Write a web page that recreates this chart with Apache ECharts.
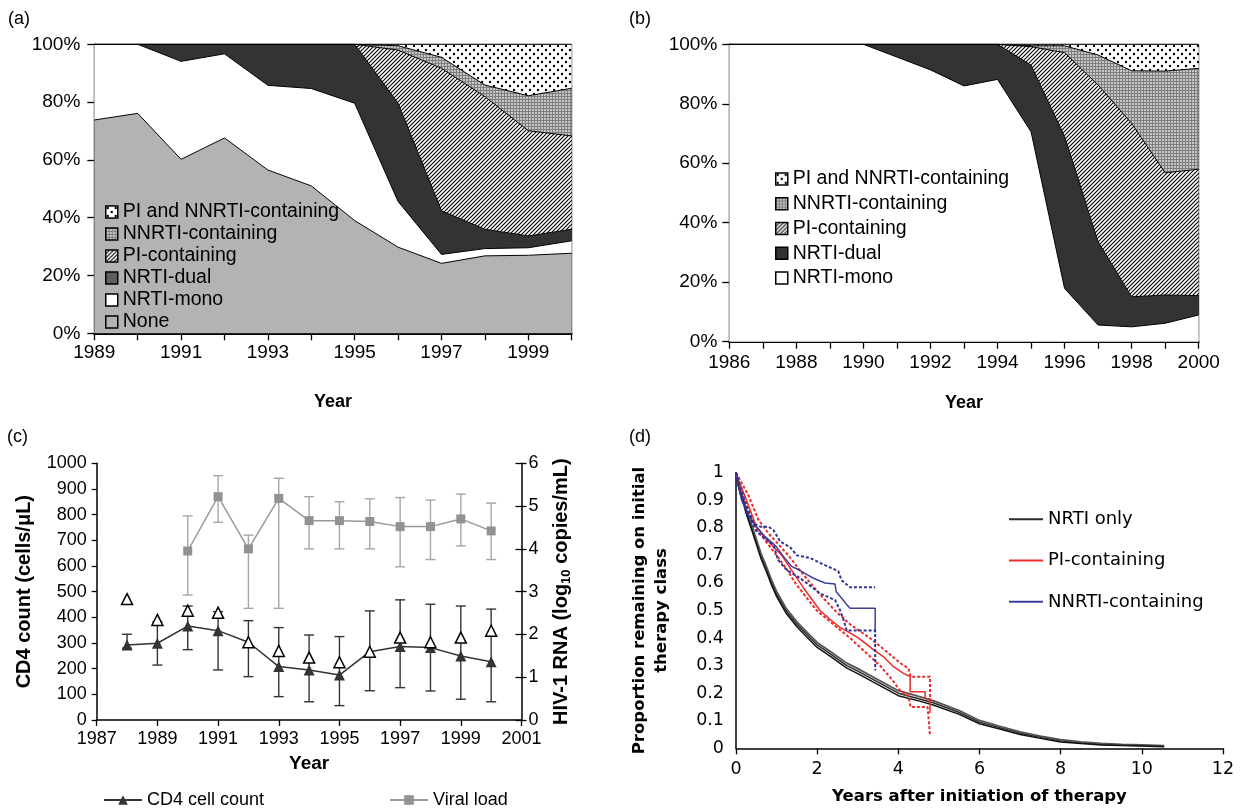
<!DOCTYPE html>
<html><head><meta charset="utf-8">
<script src="https://cdn.jsdelivr.net/npm/echarts@6/dist/echarts.min.js"></script>
<style>html,body{margin:0;padding:0;background:#fff}#c{width:1242px;height:810px}</style>
</head><body><div id="c"></div>
<script>
// ---------- Panel (a) ----------
const aYears = ['1989','1990','1991','1992','1993','1994','1995','1996','1997','1998','1999','2000'];
const aNone  = [73.8, 76.1, 60.2, 67.6, 56.5, 51.0, 39.0, 29.8, 24.2, 26.8, 27.0, 27.7];
const aMono  = [26.2, 23.9, 33.9, 29.1, 29.3, 33.7, 40.6, 15.8, 3.1, 2.5, 2.6, 4.3];
const aDual  = [0, 0, 5.9, 3.3, 14.2, 15.3, 20.4, 34.0, 15.1, 6.7, 4.1, 4.0];
const aPI    = [0, 0, 0, 0, 0, 0, 0, 18.4, 49.3, 45.9, 36.4, 32.3];
const aNNRTI = [0, 0, 0, 0, 0, 0, 0, 1.5, 3.8, 4.0, 12.1, 16.5];
const aBoth  = [0, 0, 0, 0, 0, 0, 0, 0.5, 4.5, 14.1, 17.8, 15.2];

// ---------- Panel (b) ----------
const bYears = ['1986','1987','1988','1989','1990','1991','1992','1993','1994','1995','1996','1997','1998','1999','2000'];
const bMono  = [100, 100, 100, 100, 100, 95.7, 91.4, 86.0, 88.2, 70.6, 17.9, 5.6, 5.0, 6.2, 9.0];
const bDual  = [0, 0, 0, 0, 0, 4.3, 8.6, 14.0, 11.8, 22.4, 51.1, 28.0, 10.1, 9.5, 6.5];
const bPI    = [0, 0, 0, 0, 0, 0, 0, 0, 0, 6.2, 28.2, 52.7, 58.3, 41.1, 42.5];
const bNNRTI = [0, 0, 0, 0, 0, 0, 0, 0, 0, 0.3, 2.3, 10.1, 17.7, 34.2, 33.9];
const bBoth  = [0, 0, 0, 0, 0, 0, 0, 0, 0, 0.5, 0.5, 3.6, 8.9, 9.0, 8.1];

// ---------- Panel (c) ----------
const cAxisYears = ['1987','1988','1989','1990','1991','1992','1993','1994','1995','1996','1997','1998','1999','2000','2001'];
const cYears   = ['1988','1989','1990','1991','1992','1993','1994','1995','1996','1997','1998','1999','2000'];
const cCD4     = [292, 299, 366, 348, 303, 208, 195, 175, 266, 286, 282, 249, 227];
const cCD4Low  = [280, 214, 274, 195, 169, 91, 71, 56, 114, 126, 113, 81, 71];
const cCD4High = [334, 383, 444, 422, 387, 360, 331, 325, 425, 468, 451, 444, 432];
const cOpen    = [471, 390, 426, 418, 303, 269, 243, 225, 266, 321, 303, 321, 348];
const vlYears  = ['1990','1991','1992','1993','1994','1995','1996','1997','1998','1999','2000'];
const vl       = [3.95, 5.22, 4.00, 5.18, 4.66, 4.66, 4.64, 4.52, 4.52, 4.70, 4.42];
const vlLow    = [2.92, 4.62, 2.61, 2.61, 4.00, 4.00, 4.00, 3.58, 3.75, 4.07, 3.75];
const vlHigh   = [4.77, 5.71, 4.32, 5.65, 5.22, 5.10, 5.17, 5.20, 5.14, 5.28, 5.07];

// ---------- Panel (d) ----------
const dNrtiT   = [0,0.05,0.1,0.18,0.25,0.39,0.5,0.61,0.75,0.88,1.0,1.23,1.5,1.83,2.0,2.3,2.73,3.0,3.5,4.0,4.5,4.86,5.5,6.0,6.5,7.0,7.5,8.0,8.5,9.0,9.5,10.0,10.55];
const dNrtiMid = [1,0.96,0.935,0.9,0.86,0.8,0.75,0.7,0.65,0.6,0.56,0.5,0.45,0.4,0.375,0.345,0.3,0.28,0.24,0.2,0.18,0.165,0.13,0.095,0.075,0.055,0.04,0.027,0.02,0.015,0.012,0.01,0.008];
const dNrtiUp  = [1,0.965,0.942,0.908,0.868,0.809,0.759,0.709,0.659,0.609,0.569,0.509,0.459,0.409,0.384,0.354,0.309,0.289,0.249,0.209,0.188,0.173,0.137,0.101,0.08,0.06,0.044,0.031,0.023,0.018,0.014,0.012,0.01];
const dNrtiLo  = [1,0.955,0.928,0.892,0.852,0.791,0.741,0.691,0.641,0.591,0.551,0.491,0.441,0.391,0.366,0.336,0.291,0.271,0.231,0.191,0.172,0.157,0.123,0.089,0.07,0.05,0.036,0.023,0.017,0.012,0.01,0.008,0.006];
const dPiT     = [0,0.1,0.26,0.51,0.8,1.13,1.35,1.58,1.82,2.07,2.3,2.55,2.8,3.02,3.2,3.39,3.63,3.88,4.13,4.29,4.29,4.66,4.66,4.78,4.78];
const dPiMid   = [1,0.96,0.9,0.8,0.75,0.7,0.65,0.6,0.55,0.5,0.47,0.44,0.42,0.4,0.38,0.357,0.333,0.296,0.272,0.26,0.205,0.205,0.18,0.18,0.128];
const dPiUpT   = [0,0.3,0.55,0.8,1.29,1.55,1.83,2.12,2.44,2.81,3.3,3.72,4.04,4.25,4.3,4.78,4.78];
const dPiUp    = [1,0.92,0.83,0.78,0.7,0.65,0.6,0.55,0.5,0.45,0.4,0.35,0.31,0.29,0.26,0.26,0.16];
const dPiLoT   = [0,0.22,0.48,1.0,1.25,1.46,1.72,1.99,2.4,2.81,3.18,3.55,3.84,4.04,4.25,4.3,4.72,4.78];
const dPiLo    = [1,0.9,0.8,0.7,0.65,0.6,0.55,0.5,0.45,0.4,0.35,0.3,0.25,0.21,0.19,0.15,0.15,0.05];
const dNnT     = [0,0.05,0.14,0.3,0.47,0.7,0.9,1.0,1.2,1.37,1.58,1.75,1.91,2.19,2.44,2.47,2.63,2.72,2.81,3.43,3.43];
const dNnMid   = [1,0.96,0.9,0.85,0.81,0.77,0.745,0.73,0.69,0.66,0.645,0.63,0.617,0.6,0.596,0.568,0.54,0.523,0.508,0.508,0.42];
const dNnUpT   = [0,0.1,0.25,0.43,0.6,0.8,0.92,1.09,1.33,1.5,1.83,2.07,2.32,2.52,2.6,2.81,3.43];
const dNnUp    = [1,0.95,0.88,0.816,0.804,0.804,0.792,0.75,0.73,0.7,0.69,0.673,0.656,0.643,0.61,0.584,0.584];
const dNnLoT   = [0,0.1,0.25,0.51,0.76,0.92,1.04,1.25,1.58,1.74,1.91,2.07,2.44,2.56,2.65,2.73,3.43,3.43];
const dNnLo    = [1,0.93,0.86,0.786,0.756,0.738,0.683,0.647,0.617,0.6,0.58,0.562,0.538,0.502,0.466,0.427,0.427,0.282];

// ---------- fill patterns ----------
function mkCanvas(w, h, draw) { const c = document.createElement('canvas'); c.width = w; c.height = h; draw(c.getContext('2d')); return c; }
const hatchImg = mkCanvas(4, 4, g => { g.fillStyle = '#fff'; g.fillRect(0,0,4,4); g.strokeStyle = '#000'; g.lineWidth = 1.1; g.beginPath(); g.moveTo(0,4); g.lineTo(4,0); g.moveTo(-1,1); g.lineTo(1,-1); g.moveTo(3,5); g.lineTo(5,3); g.stroke(); });
const gridImg = mkCanvas(3, 3, g => { g.fillStyle = '#c6c6c6'; g.fillRect(0,0,3,3); g.fillStyle = '#7e7e7e'; g.fillRect(0,0,3,1); g.fillRect(0,0,1,3); });
const dotImg = mkCanvas(8, 8, g => { g.fillStyle = '#fff'; g.fillRect(0,0,8,8); g.fillStyle = '#000'; g.beginPath(); g.arc(2,2,1.2,0,Math.PI*2); g.arc(6,6,1.2,0,Math.PI*2); g.fill(); });
const pat = img => ({ image: img, repeat: 'repeat' });
const HATCH = pat(hatchImg), GRIDP = pat(gridImg), DOTS = pat(dotImg);

const LIB = 'Liberation Sans', DJV = 'DejaVu Sans';
const zip = (a, b) => a.map((v, i) => [v, b[i]]);

function areaSeries(name, data, fill, xi, yi) {
  return { name, type: 'line', stack: 'st' + xi, xAxisIndex: xi, yAxisIndex: yi, data,
    symbol: 'none', lineStyle: { color: '#000', width: 1 }, itemStyle: { color: fill },
    areaStyle: { color: fill, opacity: 1 }, emphasis: { disabled: true } };
}
function errRender(color) {
  return function (params, api) {
    const x = api.value(0), lo = api.value(1), hi = api.value(2);
    const p1 = api.coord([x, lo]), p2 = api.coord([x, hi]), w = 5;
    const st = { stroke: color, lineWidth: 1.4 };
    return { type: 'group', children: [
      { type: 'line', shape: { x1: p1[0], y1: p1[1], x2: p2[0], y2: p2[1] }, style: st },
      { type: 'line', shape: { x1: p1[0]-w, y1: p1[1], x2: p1[0]+w, y2: p1[1] }, style: st },
      { type: 'line', shape: { x1: p2[0]-w, y1: p2[1], x2: p2[0]+w, y2: p2[1] }, style: st }
    ] };
  };
}
function kmLine(name, t, v, color, width, dashed, z) {
  return { name, type: 'line', xAxisIndex: 3, yAxisIndex: 5, data: zip(t, v), showSymbol: false, symbol: 'none',
    z: z, lineStyle: { color, width, type: dashed ? [3, 2] : 'solid' }, itemStyle: { color }, emphasis: { disabled: true } };
}

const axLine = w => ({ show: true, lineStyle: { color: '#000', width: w } });
const tick = (len, inside) => ({ show: true, length: len, inside: !!inside, lineStyle: { color: '#000', width: 1.3 } });

const option = {
  animation: false,
  backgroundColor: '#fff',
  grid: [
    { left: 94.3, top: 44.3, width: 477.4, height: 289, show: true, borderColor: '#000', borderWidth: 1, containLabel: false, outerBoundsMode: 'none' },
    { left: 729.3, top: 44.3, width: 469.4, height: 297.4, show: true, borderColor: '#000', borderWidth: 1, containLabel: false, outerBoundsMode: 'none' },
    { left: 96.7, top: 463.3, width: 424.8, height: 256.7, containLabel: false, outerBoundsMode: 'none' },
    { left: 736, top: 472.7, width: 487, height: 275.6, containLabel: false, outerBoundsMode: 'none' }
  ],
  xAxis: [
    { type: 'category', gridIndex: 0, data: aYears, boundaryGap: false, axisLine: axLine(2), axisTick: Object.assign(tick(7), { interval: 0 }),
      axisLabel: { interval: 1, margin: 10, color: '#000', fontSize: 19, fontFamily: LIB },
      name: 'Year', nameLocation: 'middle', nameGap: 60, nameTextStyle: { fontWeight: 'bold', fontSize: 18, fontFamily: LIB, color: '#000' } },
    { type: 'category', gridIndex: 1, data: bYears, boundaryGap: false, axisLine: axLine(2), axisTick: Object.assign(tick(7), { interval: 0 }),
      axisLabel: { interval: 1, margin: 12, color: '#000', fontSize: 19, fontFamily: LIB },
      name: 'Year', nameLocation: 'middle', nameGap: 52, nameTextStyle: { fontWeight: 'bold', fontSize: 18, fontFamily: LIB, color: '#000' } },
    { type: 'category', gridIndex: 2, data: cAxisYears, boundaryGap: false, axisLine: axLine(1.5), axisTick: Object.assign(tick(6), { interval: 1 }),
      axisLabel: { interval: 1, margin: 10, color: '#000', fontSize: 18, fontFamily: LIB },
      name: 'Year', nameLocation: 'middle', nameGap: 34, nameTextStyle: { fontWeight: 'bold', fontSize: 19, fontFamily: LIB, color: '#000' } },
    { type: 'value', gridIndex: 3, min: 0, max: 12, interval: 2, axisLine: axLine(1.5), axisTick: tick(6), splitLine: { show: false },
      axisLabel: { margin: 12, color: '#000', fontSize: 17.5, fontFamily: DJV },
      name: 'Years after initiation of therapy', nameLocation: 'middle', nameGap: 40, nameTextStyle: { fontWeight: 'bold', fontSize: 16.5, fontFamily: DJV, color: '#000' } }
  ],
  yAxis: [
    { type: 'value', gridIndex: 0, min: 0, max: 100, interval: 20, axisLine: axLine(1.5), axisTick: tick(7), splitLine: { show: false },
      axisLabel: { formatter: '{value}%', margin: 14, color: '#000', fontSize: 19, fontFamily: LIB } },
    { type: 'value', gridIndex: 1, min: 0, max: 100, interval: 20, axisLine: axLine(1.5), axisTick: tick(7), splitLine: { show: false },
      axisLabel: { formatter: '{value}%', margin: 12, color: '#000', fontSize: 19, fontFamily: LIB } },
    { type: 'value', gridIndex: 2, min: 0, max: 1000, interval: 100, axisLine: axLine(1.5), axisTick: tick(5), splitLine: { show: false },
      axisLabel: { margin: 10, color: '#000', fontSize: 18, fontFamily: LIB, formatter: v => String(v) },
      name: 'CD4 count (cells/μL)', nameLocation: 'middle', nameRotate: 90, nameGap: 62, nameTextStyle: { fontWeight: 'bold', fontSize: 20, fontFamily: LIB, color: '#000' } },
    { type: 'value', gridIndex: 2, position: 'right', min: 0, max: 6, interval: 1, axisLine: axLine(1.5), axisTick: tick(5), splitLine: { show: false },
      axisLabel: { margin: 7, color: '#000', fontSize: 18, fontFamily: LIB },
      name: 'HIV-1 RNA (log{s|10} copies/mL)', nameLocation: 'middle', nameRotate: 90, nameGap: 28,
      nameTextStyle: { fontWeight: 'bold', fontSize: 20, fontFamily: LIB, color: '#000',
        rich: { s: { fontWeight: 'bold', fontSize: 13, fontFamily: LIB, color: '#000', verticalAlign: 'bottom', padding: [10, 0, 0, 0] } } } },
    { type: 'value', gridIndex: 2, position: 'right', min: 0, max: 6, interval: 1, axisLine: { show: false }, axisTick: tick(6, true),
      splitLine: { show: false }, axisLabel: { show: false } },
    { type: 'value', gridIndex: 3, min: 0, max: 1, interval: 0.1, axisLine: axLine(1.5), axisTick: { show: false }, splitLine: { show: false },
      axisLabel: { margin: 12, color: '#000', fontSize: 17.5, fontFamily: DJV },
      name: 'Proportion remaining on initial\ntherapy class', nameLocation: 'middle', nameRotate: 90, nameGap: 63,
      nameTextStyle: { fontWeight: 'bold', fontSize: 16.5, lineHeight: 22, fontFamily: DJV, color: '#000' } }
  ],
  legend: [
    { left: 105, top: 201, padding: 0, orient: 'vertical', icon: 'rect', itemWidth: 12, itemHeight: 12, itemGap: 0, selectedMode: false,
      textStyle: { fontSize: 19.5, fontFamily: LIB, color: '#000', lineHeight: 22 }, formatter: n => n.slice(2),
      data: [
        { name: 'a:PI and NNRTI-containing', itemStyle: { color: DOTS, borderColor: '#000', borderWidth: 1.5 } },
        { name: 'a:NNRTI-containing', itemStyle: { color: GRIDP, borderColor: '#000', borderWidth: 1.5 } },
        { name: 'a:PI-containing', itemStyle: { color: HATCH, borderColor: '#000', borderWidth: 1.5 } },
        { name: 'a:NRTI-dual', itemStyle: { color: '#5e5e5e', borderColor: '#000', borderWidth: 1.5 } },
        { name: 'a:NRTI-mono', itemStyle: { color: '#fff', borderColor: '#000', borderWidth: 1.5 } },
        { name: 'a:None', itemStyle: { color: '#b3b3b3', borderColor: '#000', borderWidth: 1.5 } }
      ] },
    { left: 775, top: 166.5, padding: 0, orient: 'vertical', icon: 'rect', itemWidth: 12, itemHeight: 12, itemGap: 0, selectedMode: false,
      textStyle: { fontSize: 19.5, fontFamily: LIB, color: '#000', lineHeight: 24.75 }, formatter: n => n.slice(2),
      data: [
        { name: 'b:PI and NNRTI-containing', itemStyle: { color: DOTS, borderColor: '#000', borderWidth: 1.5 } },
        { name: 'b:NNRTI-containing', itemStyle: { color: GRIDP, borderColor: '#000', borderWidth: 1.5 } },
        { name: 'b:PI-containing', itemStyle: { color: HATCH, borderColor: '#000', borderWidth: 1.5 } },
        { name: 'b:NRTI-dual', itemStyle: { color: '#333', borderColor: '#000', borderWidth: 1.5 } },
        { name: 'b:NRTI-mono', itemStyle: { color: '#fff', borderColor: '#000', borderWidth: 1.5 } }
      ] },
    { left: 103, top: 789, padding: 0, itemWidth: 38, itemHeight: 12, selectedMode: false, textStyle: { fontSize: 18, fontFamily: LIB, color: '#000', lineHeight: 22 },
      data: ['CD4 cell count'] },
    { left: 389, top: 789, padding: 0, itemWidth: 38, itemHeight: 12, selectedMode: false, textStyle: { fontSize: 18, fontFamily: LIB, color: '#000', lineHeight: 22 },
      data: ['Viral load'] },
    { left: 1009, top: 498.6, padding: 0, orient: 'vertical', itemWidth: 34, itemHeight: 2, itemGap: 0, selectedMode: false, icon: 'rect',
      textStyle: { fontSize: 18, fontFamily: DJV, color: '#000', lineHeight: 41.3 }, formatter: n => n.slice(2),
      data: [
        { name: 'd:NRTI only', itemStyle: { color: '#2b2b2b' } },
        { name: 'd:PI-containing', itemStyle: { color: '#ee2a2a' } },
        { name: 'd:NNRTI-containing', itemStyle: { color: '#3b3f9c' } }
      ] }
  ],
  graphic: [
    { type: 'text', left: 8, top: 10, style: { text: '(a)', fontSize: 18, fontFamily: LIB, fill: '#000' } },
    { type: 'text', left: 629, top: 10, style: { text: '(b)', fontSize: 18, fontFamily: LIB, fill: '#000' } },
    { type: 'text', left: 7, top: 428, style: { text: '(c)', fontSize: 18, fontFamily: LIB, fill: '#000' } },
    { type: 'text', left: 629, top: 428, style: { text: '(d)', fontSize: 18, fontFamily: LIB, fill: '#000' } }
  ],
  series: [
    areaSeries('a:None', aNone, '#b3b3b3', 0, 0),
    areaSeries('a:NRTI-mono', aMono, '#fff', 0, 0),
    areaSeries('a:NRTI-dual', aDual, '#333', 0, 0),
    areaSeries('a:PI-containing', aPI, HATCH, 0, 0),
    areaSeries('a:NNRTI-containing', aNNRTI, GRIDP, 0, 0),
    areaSeries('a:PI and NNRTI-containing', aBoth, DOTS, 0, 0),

    areaSeries('b:NRTI-mono', bMono, '#fff', 1, 1),
    areaSeries('b:NRTI-dual', bDual, '#333', 1, 1),
    areaSeries('b:PI-containing', bPI, HATCH, 1, 1),
    areaSeries('b:NNRTI-containing', bNNRTI, GRIDP, 1, 1),
    areaSeries('b:PI and NNRTI-containing', bBoth, DOTS, 1, 1),

    { name: 'c:cd4err', type: 'custom', xAxisIndex: 2, yAxisIndex: 2, renderItem: errRender('#333'), z: 2,
      data: cYears.map((y, i) => [y, cCD4Low[i], cCD4High[i]]), encode: { x: 0, y: [1, 2] } },
    { name: 'c:vlerr', type: 'custom', xAxisIndex: 2, yAxisIndex: 3, renderItem: errRender('#a6a6a6'), z: 2,
      data: vlYears.map((y, i) => [y, vlLow[i], vlHigh[i]]), encode: { x: 0, y: [1, 2] } },
    { name: 'Viral load', type: 'line', xAxisIndex: 2, yAxisIndex: 3, data: zip(vlYears, vl), z: 3,
      symbol: 'rect', symbolSize: 9, lineStyle: { color: '#999', width: 1.5 }, itemStyle: { color: '#929292' }, emphasis: { disabled: true } },
    { name: 'CD4 cell count', type: 'line', xAxisIndex: 2, yAxisIndex: 2, data: zip(cYears, cCD4), z: 4,
      symbol: 'triangle', symbolSize: 11, lineStyle: { color: '#333', width: 1.5 }, itemStyle: { color: '#333' }, emphasis: { disabled: true } },
    { name: 'c:open', type: 'scatter', xAxisIndex: 2, yAxisIndex: 2, data: zip(cYears, cOpen), z: 5,
      symbol: 'triangle', symbolSize: 11, itemStyle: { color: '#fff', opacity: 1, borderColor: '#000', borderWidth: 1.5 }, emphasis: { disabled: true } },

    kmLine('d:NRTI only', dNrtiT, dNrtiMid, '#2b2b2b', 1.5, false, 3),
    kmLine('d:nrtiUp', dNrtiT, dNrtiUp, '#555', 1.8, false, 3),
    kmLine('d:nrtiLo', dNrtiT, dNrtiLo, '#111', 1.5, false, 3),
    kmLine('d:PI-containing', dPiT, dPiMid, '#ee2a2a', 1.5, false, 4),
    kmLine('d:piUp', dPiUpT, dPiUp, '#ee2a2a', 2, true, 4),
    kmLine('d:piLo', dPiLoT, dPiLo, '#ee2a2a', 2, true, 4),
    kmLine('d:NNRTI-containing', dNnT, dNnMid, '#3b3f9c', 1.5, false, 5),
    kmLine('d:nnUp', dNnUpT, dNnUp, '#2f3395', 2, true, 5),
    kmLine('d:nnLo', dNnLoT, dNnLo, '#2f3395', 2, true, 5)
  ]
};
const chart = echarts.init(document.getElementById('c'), null, { renderer: 'canvas' });
chart.setOption(option);
</script>
</body></html>
